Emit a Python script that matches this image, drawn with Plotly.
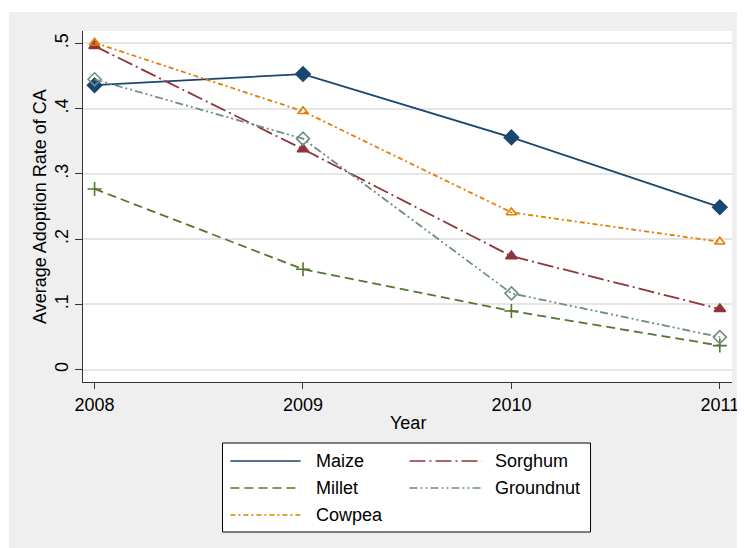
import plotly.graph_objects as go

years = [2008, 2009, 2010, 2011]
maize = [0.436, 0.453, 0.356, 0.249]
sorghum = [0.496, 0.338, 0.174, 0.093]
millet = [0.277, 0.154, 0.090, 0.037]
groundnut = [0.445, 0.354, 0.117, 0.050]
cowpea = [0.501, 0.396, 0.241, 0.196]
y_ticks = [0, 0.1, 0.2, 0.3, 0.4, 0.5]
y_ticktext = ["0", ".1", ".2", ".3", ".4", ".5"]

# page coordinates (the page body adds an 8px margin at the top/left)
OFF = 8
PAGE_W, PAGE_H = 745, 548
W, H = PAGE_W - OFF, PAGE_H - OFF
L, R, T, B = 83, 739, 31, 382
PW, PH = R - L, B - T


def px(x):
    return (x - L) / PW


def py(y):
    return (B - y) / PH


# x-range chosen so 2008 sits at page x=94.7 and 2011 at 726.7
X_PER_YEAR = (726.7 - 94.7) / 3
X_MIN = 2008 - (94.7 - L) / X_PER_YEAR
X_MAX = 2011 + (R - 726.7) / X_PER_YEAR

FONT = "Liberation Sans, Arial, sans-serif"

series = [
    dict(name="Maize", y=maize, color="#1a476f", dash="solid", symbol="diamond", size=11),
    dict(name="Sorghum", y=sorghum, color="#90353b", dash="16px,4px,2px,4px", symbol="triangle-up", size=10),
    dict(name="Millet", y=millet, color="#55752f", dash="9px,5px", symbol="cross-thin", size=10),
    dict(name="Groundnut", y=groundnut, color="#6e8e84", dash="8px,3px,2px,3px,2px,3px", symbol="diamond-open", size=10),
    dict(name="Cowpea", y=cowpea, color="#e37e00", dash="5px,3px,2px,3px", symbol="triangle-up-open", size=9),
]

fig = go.Figure()
for s in series:
    fig.add_trace(go.Scatter(
        x=years, y=s["y"], mode="lines+markers", name=s["name"],
        line=dict(color=s["color"], width=1.8, dash=s["dash"]),
        marker=dict(symbol=s["symbol"], size=s["size"], color=s["color"],
                    line=dict(color=s["color"], width=1.6)),
        showlegend=False, cliponaxis=False,
    ))

shapes = [
    dict(type="rect", xref="paper", yref="paper", x0=px(8), x1=px(760), y0=py(560), y1=py(12),
         fillcolor="#EFEFEF", line=dict(width=0), layer="below"),
    dict(type="rect", xref="paper", yref="paper", x0=0, x1=1, y0=0, y1=1,
         fillcolor="white", line=dict(width=0), layer="below"),
    dict(type="rect", xref="paper", yref="paper", x0=px(224), x1=px(596), y0=py(532), y1=py(443),
         fillcolor="white", line=dict(color="black", width=1)),
]
annotations = [
    dict(text="Year", xref="paper", yref="paper", x=px(411), y=py(423), showarrow=False,
         xanchor="center", yanchor="middle", font=dict(size=18, color="black", family=FONT)),
    dict(text="Average Adoption Rate of CA", xref="paper", yref="paper", x=px(39), y=py(206.5),
         showarrow=False, textangle=-90, xanchor="center", yanchor="middle",
         font=dict(size=18, color="black", family=FONT)),
]

# legend (manual, Stata style)
leg_order = ["Maize", "Sorghum", "Millet", "Groundnut", "Cowpea"]
rows_y = [461, 488, 515]
cols = [(232, 303, 316), (413, 486, 497)]
lookup = {s["name"]: s for s in series}
for i, name in enumerate(leg_order):
    s = lookup[name]
    r, c = divmod(i, 2)
    x0, x1, xt = cols[c]
    yy = py(rows_y[r])
    shapes.append(dict(type="line", xref="paper", yref="paper", x0=px(x0), x1=px(x1), y0=yy, y1=yy,
                       line=dict(color=s["color"], width=1.6, dash=s["dash"])))
    annotations.append(dict(text=name, xref="paper", yref="paper", x=px(xt), y=yy, showarrow=False,
                            xanchor="left", yanchor="middle",
                            font=dict(size=18, color="black", family=FONT)))

fig.update_layout(
    width=W, height=H,
    margin=dict(l=L - OFF, r=PAGE_W - R, t=T - OFF, b=PAGE_H - B, pad=0),
    paper_bgcolor="white", plot_bgcolor="white",
    font=dict(family=FONT, size=18, color="black"),
    shapes=shapes, annotations=annotations,
    showlegend=False,
)
fig.update_xaxes(
    range=[X_MIN, X_MAX], tickvals=years, ticktext=[str(y) for y in years],
    showline=True, linecolor="#333333", linewidth=1.2, ticks="outside", ticklen=6,
    tickcolor="#333333", showgrid=False, zeroline=False, ticklabeloverflow="allow",
    tickfont=dict(size=18, color="black", family=FONT),
)
fig.update_yaxes(
    range=[-0.0188, 0.519], tickvals=y_ticks, ticktext=y_ticktext, tickangle=-90,
    showline=True, linecolor="#333333", linewidth=1.2, ticks="outside", ticklen=7,
    tickcolor="#333333", showgrid=True, gridcolor="#E6E6E6", gridwidth=1.5, zeroline=False,
    tickfont=dict(size=18, color="black", family=FONT),
)

fig.write_html("out.html")
